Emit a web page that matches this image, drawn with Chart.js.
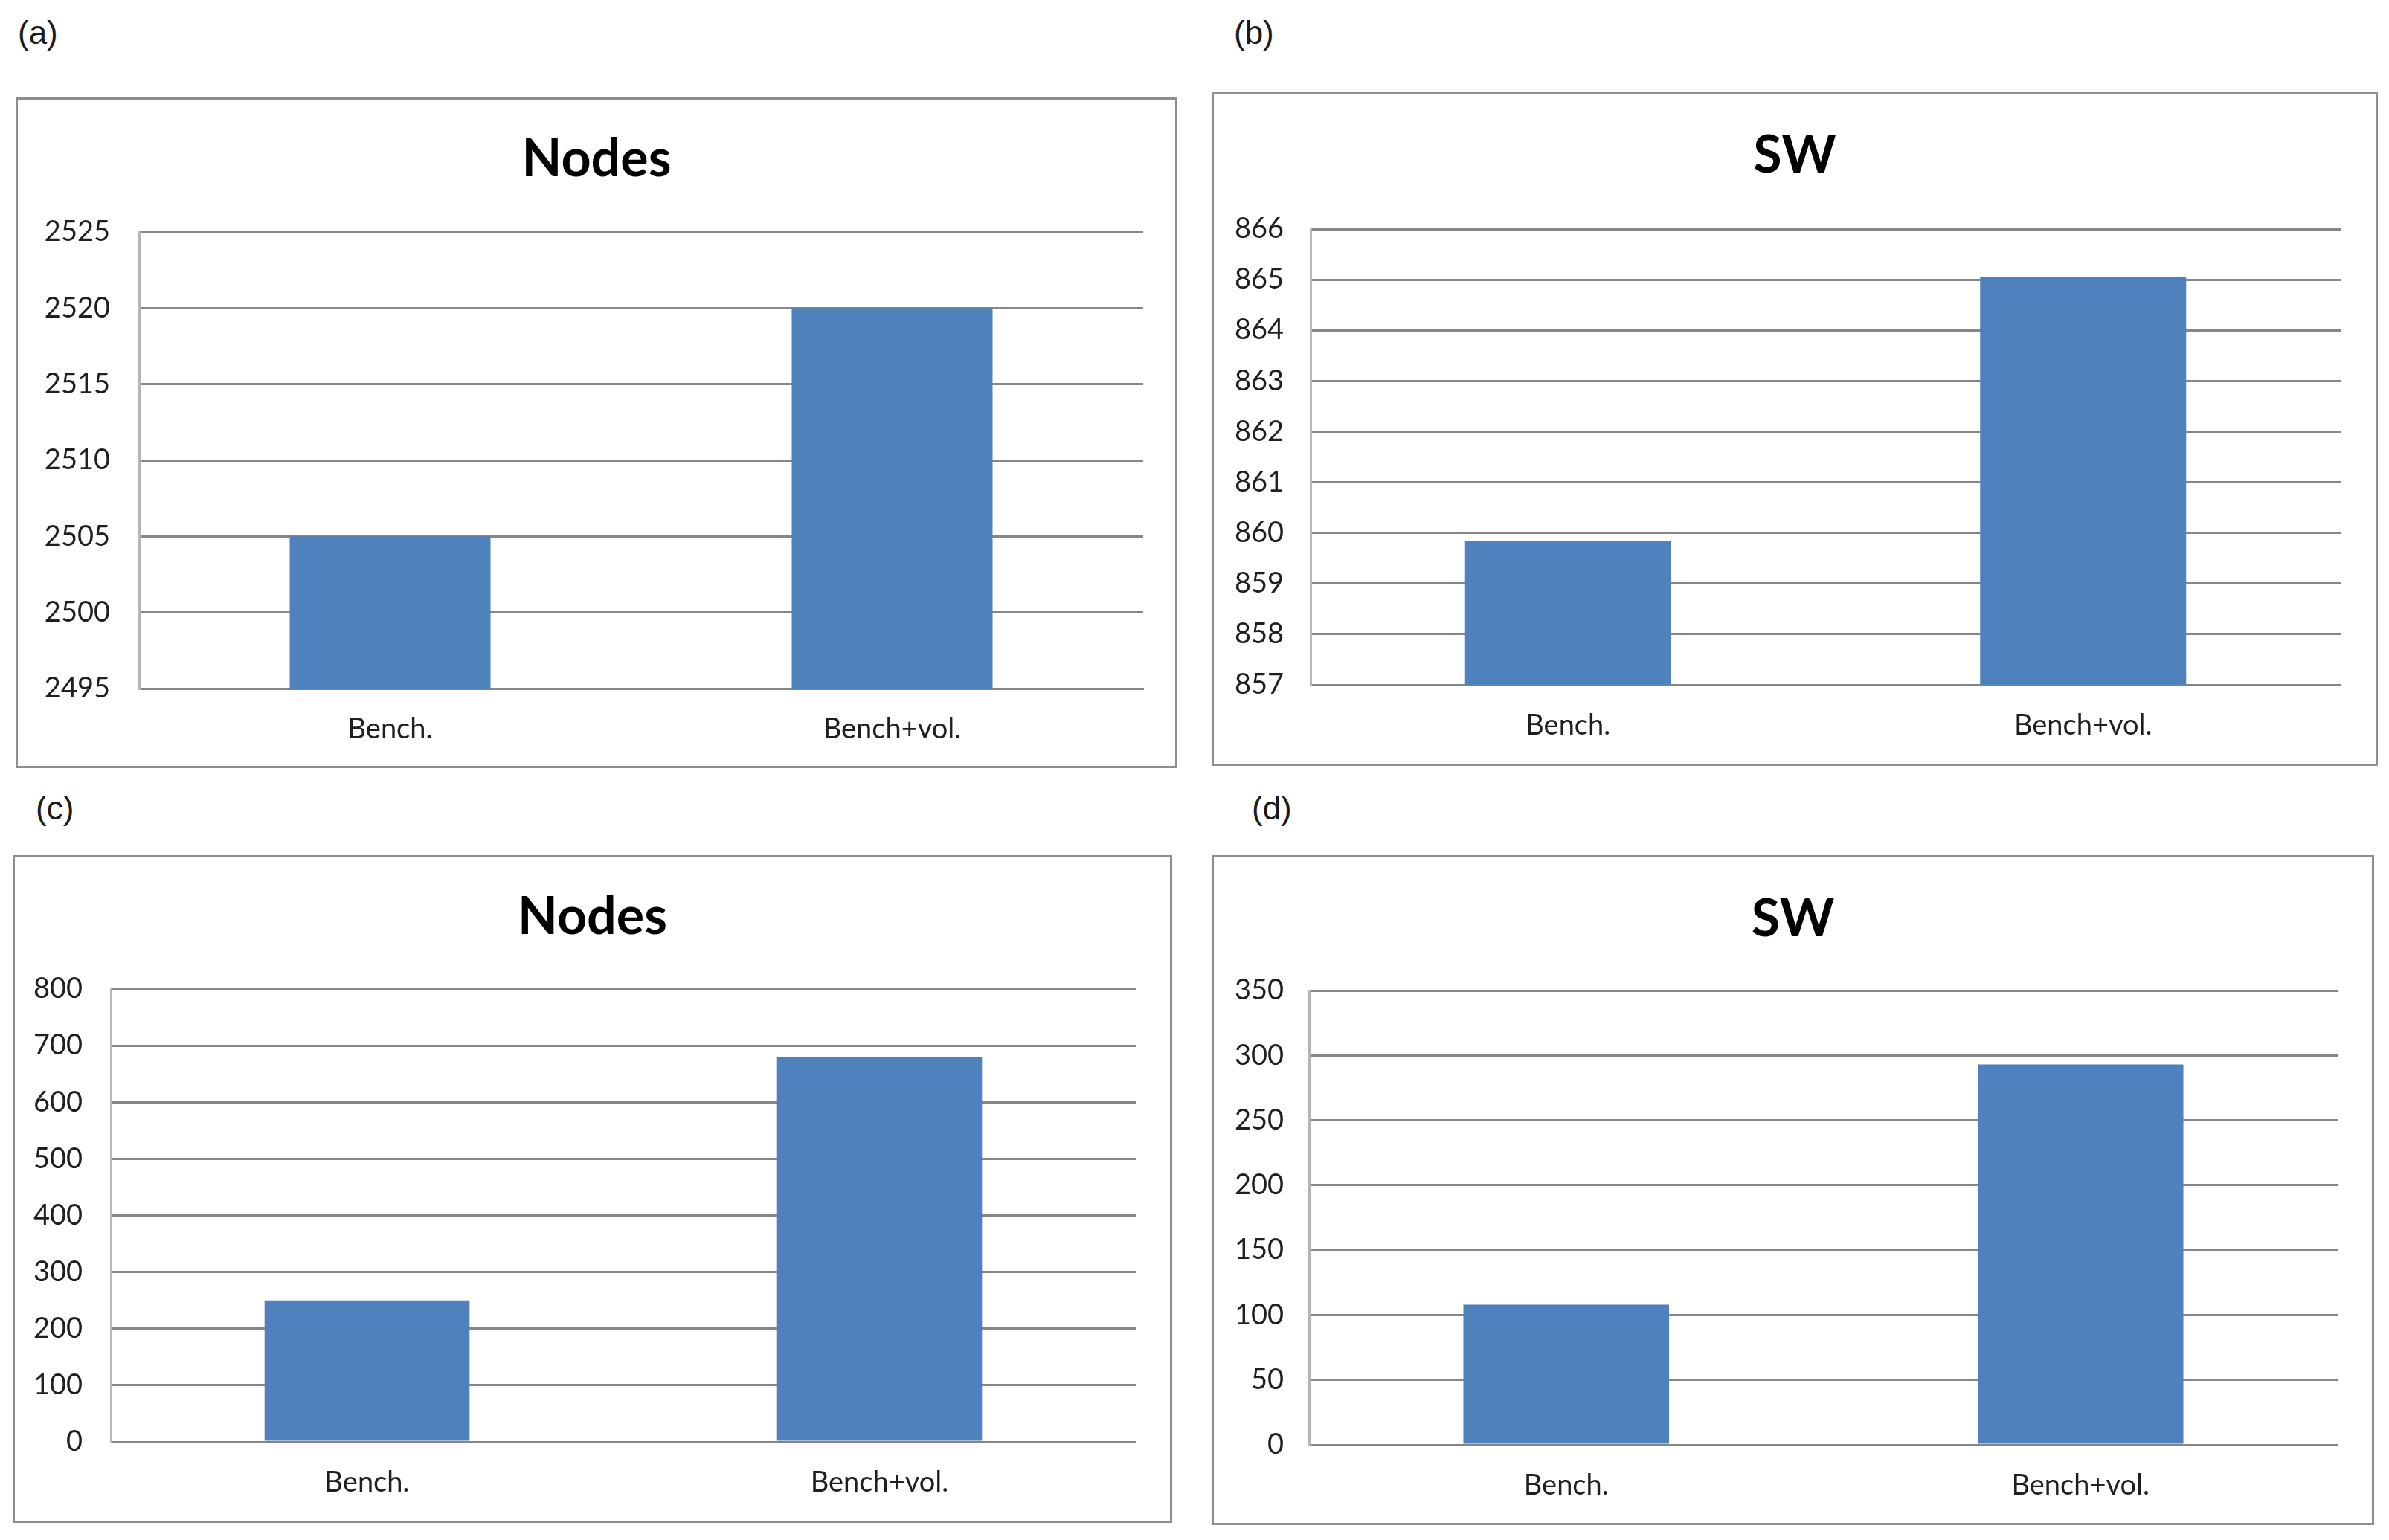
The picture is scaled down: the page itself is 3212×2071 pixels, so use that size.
<!DOCTYPE html>
<html>
<head>
<meta charset="utf-8">
<script src="https://cdn.jsdelivr.net/npm/chart.js@4.4.1/dist/chart.umd.min.js"></script>
<style>
  html, body { margin: 0; padding: 0; background: #ffffff; }
  body { width: 3212px; height: 2071px; position: relative; overflow: hidden; }
  .box { position: absolute; box-sizing: border-box; border: 3px solid #8e8e8e; background: #fff; }
  .cv { position: absolute; }
  .plabel { position: absolute; font-family: "Liberation Sans", Arial, sans-serif; font-size: 44px; color: #1a1a1a; line-height: 1; }
</style>
</head>
<body>
<script>
// ---- data ----
const categories = ['Bench.', 'Bench+vol.'];
const nodesA = [2505, 2520];
const swB = [859.85, 865.05];
const nodesC = [250, 680];
const swD = [108, 293];
const titles = ['Nodes', 'SW', 'Nodes', 'SW'];
const panelLetters = ['(a)', '(b)', '(c)', '(d)'];
// y scale ranges: [min, max, step]
const rangeA = [2495, 2525, 5];
const rangeB = [857, 866, 1];
const rangeC = [0, 800, 100];
const rangeD = [0, 350, 50];

// ---- layout (pixels) ----
const panels = [
  { values: nodesA, range: rangeA, box: {l:21, t:131, r:1583, b:1033}, plot: {l:187, t:312, r:1537, b:926}, titleY: 214, lab: {x:24, y:22}, tickPad: 39 },
  { values: swB,    range: rangeB, box: {l:1629, t:124, r:3197, b:1030}, plot: {l:1762, t:308, r:3147, b:921}, titleY: 209, lab: {x:1659, y:22}, tickPad: 36 },
  { values: nodesC, range: rangeC, box: {l:17, t:1150, r:1576, b:2048}, plot: {l:149, t:1330, r:1527, b:1939}, titleY: 1233, lab: {x:48, y:1065}, tickPad: 38 },
  { values: swD,    range: rangeD, box: {l:1629, t:1150, r:3192, b:2051}, plot: {l:1760, t:1332, r:3143, b:1943}, titleY: 1236, lab: {x:1683, y:1065}, tickPad: 34 }
];

const FONT = 'Lato, "Open Sans", "Noto Sans", sans-serif';
const titleSize = 70, titleLH = 1.2;
const tickSize = 38;

panels.forEach((p, i) => {
  const b = p.box, pl = p.plot;
  const w = b.r - b.l, h = b.b - b.t;

  const lab = document.createElement('div');
  lab.className = 'plabel';
  lab.style.left = p.lab.x + 'px';
  lab.style.top = p.lab.y + 'px';
  lab.textContent = panelLetters[i];
  document.body.appendChild(lab);

  const box = document.createElement('div');
  box.className = 'box';
  Object.assign(box.style, { left: b.l + 'px', top: b.t + 'px', width: w + 'px', height: h + 'px' });
  document.body.appendChild(box);

  const cv = document.createElement('canvas');
  cv.className = 'cv';
  cv.width = w; cv.height = h;
  Object.assign(cv.style, { left: b.l + 'px', top: b.t + 'px', width: w + 'px', height: h + 'px' });
  document.body.appendChild(cv);

  const yAxisW = pl.l - b.l;
  const xAxisH = b.b - pl.b;
  const padRight = b.r - pl.r;
  const lh = titleSize * titleLH;
  const tPadTop = p.titleY - b.t - lh / 2;
  const tPadBottom = pl.t - p.titleY - lh / 2;

  new Chart(cv, {
    type: 'bar',
    data: {
      labels: categories,
      datasets: [{
        data: p.values,
        backgroundColor: '#4F81BD',
        borderWidth: 0,
        barPercentage: 0.4,
        categoryPercentage: 1.0
      }]
    },
    options: {
      responsive: false,
      animation: false,
      devicePixelRatio: 1,
      layout: { padding: 0 },
      plugins: {
        legend: { display: false },
        tooltip: { enabled: false },
        title: {
          display: true,
          text: titles[i],
          color: '#000000',
          font: { family: FONT, size: titleSize, weight: 'bold', lineHeight: titleLH },
          padding: { top: tPadTop, bottom: tPadBottom }
        }
      },
      scales: {
        x: {
          grid: { display: false, drawTicks: false },
          border: { display: true, color: '#858585', width: 3 },
          ticks: { color: '#1f1f1f', padding: 32, font: { family: FONT, size: tickSize } },
          afterFit: (s) => { s.height = xAxisH; }
        },
        y: {
          min: p.range[0], max: p.range[1],
          grid: { color: '#868686', lineWidth: 3, drawTicks: false },
          border: { display: true, color: '#b5b5b5', width: 3 },
          ticks: { stepSize: p.range[2], color: '#1f1f1f', padding: p.tickPad, font: { family: FONT, size: tickSize },
                   callback: (v) => String(v) },
          afterFit: (s) => { s.width = yAxisW; }
        },
        yRight: {
          position: 'right',
          display: true,
          min: p.range[0], max: p.range[1],
          grid: { display: false, drawTicks: false },
          border: { display: false },
          ticks: { display: false },
          afterFit: (s) => { s.width = padRight; }
        }
      }
    }
  });
});
</script>
</body>
</html>
